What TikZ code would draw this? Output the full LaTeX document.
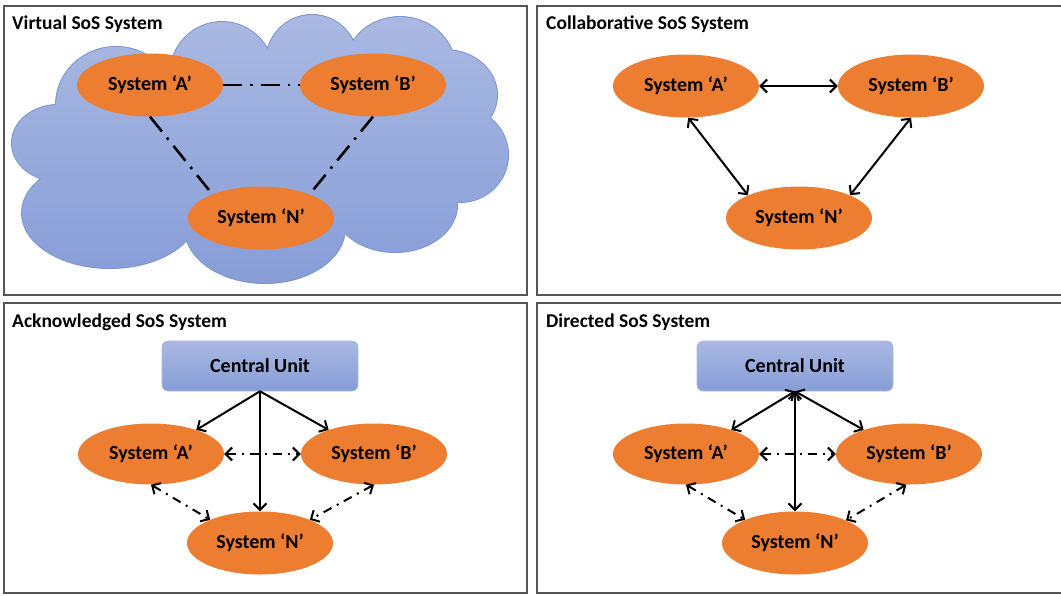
\documentclass[tikz,border=0pt]{standalone}
\usepackage{fontspec}
\setmainfont{Carlito}
\usetikzlibrary{shapes.geometric,arrows.meta}
\definecolor{sysorange}{HTML}{ED7D31}
\definecolor{cloudtop}{HTML}{A9B9E2}
\definecolor{cloudbot}{HTML}{879DD7}
\definecolor{cloudline}{HTML}{7F95CF}
\definecolor{framegray}{HTML}{555555}
\tikzset{
  x=1pt, y=-1pt,
  panel/.style={draw=framegray, line width=1.6pt},
  ptitle/.style={anchor=base west, font=\bfseries\fontsize{19.5}{21}\selectfont, inner sep=0},
  sysnode/.style={ellipse, fill=sysorange, minimum width=146pt, minimum height=63pt, inner sep=0,
    font=\bfseries\fontsize{20}{22}\selectfont},
  cunit/.style={rectangle, rounded corners=6pt, top color=cloudtop, bottom color=cloudbot,
    draw=cloudtop, line width=0.6pt, minimum width=196pt, minimum height=50pt, inner sep=0,
    font=\bfseries\fontsize{20}{22}\selectfont},
  dashdotlink/.style={line width=2.6pt, dash pattern=on 19pt off 8pt on 2.5pt off 8pt},
  solidarrow/.style={line width=2pt, -{Straight Barb[length=6.5pt,width=13pt]}},
  bothsolid/.style={line width=2pt, {Straight Barb[length=6.5pt,width=13pt]}-{Straight Barb[length=6.5pt,width=13pt]}},
  bothdotted/.style={line width=2pt, dash pattern=on 9pt off 6pt on 2pt off 6pt,
    {Straight Barb[length=6.5pt,width=13pt]}-{Straight Barb[length=6.5pt,width=13pt]}},
  puffs/.style={insert path={
    (58,143) ellipse [x radius=46, y radius=38]
    (110,213) ellipse [x radius=88, y radius=55]
    (265,228) ellipse [x radius=80, y radius=55]
    (395,205) ellipse [x radius=62, y radius=47]
    (460,155) ellipse [x radius=48, y radius=47]
    (445,95) ellipse [x radius=52, y radius=45]
    (400,68) ellipse [x radius=55, y radius=51]
    (312,62) ellipse [x radius=46, y radius=47]
    (222,75) ellipse [x radius=52, y radius=53]
    (116,105) ellipse [x radius=60, y radius=58]
  }},
}
\begin{document}
\begin{tikzpicture}
\useasboundingbox (0,0) rectangle (1061,595);
\fill[white] (0,0) rectangle (1061,595);
% panels
\draw[panel] (4,6) rectangle (527,295);
\draw[panel] (4,303) rectangle (527,593);
\draw[panel] (537,6) rectangle (1075,295);
\draw[panel] (537,303) rectangle (1075,593);
\node[ptitle] (t1) at (12,29) {Virtual SoS System};
\node[ptitle] (t2) at (546,29) {Collaborative SoS System};
\node[ptitle] (t3) at (12,327) {Acknowledged SoS System};
\node[ptitle] (t4) at (546,327) {Directed SoS System};
% cloud
\draw[cloudline, line width=2pt, puffs];
\shade[top color=cloudtop, bottom color=cloudbot, puffs]
  (260,150) ellipse [x radius=190, y radius=95];
% virtual
\node[sysnode] (va) at (150,85) {System ‘A’};
\node[sysnode] (vb) at (373,85) {System ‘B’};
\node[sysnode] (vn) at (261,218) {System ‘N’};
\draw[dashdotlink] (va) -- (vb);
\draw[dashdotlink] (va.south) -- (vn.154);
\draw[dashdotlink] (vb.south) -- (vn.26);
% collaborative
\node[sysnode] (ca) at (686,86) {System ‘A’};
\node[sysnode] (cb) at (911,86) {System ‘B’};
\node[sysnode] (cn) at (799,218) {System ‘N’};
\draw[bothsolid] (ca) -- (cb);
\draw[bothsolid] (ca.-86) -- (cn.156);
\draw[bothsolid] (cb.south) -- (cn.24);
% acknowledged
\node[cunit] (kc) at (260,366) {Central Unit};
\node[sysnode, minimum height=61pt] (ka) at (151,454) {System ‘A’};
\node[sysnode, minimum height=61pt] (kb) at (374,454) {System ‘B’};
\node[sysnode] (kn) at (260,543) {System ‘N’};
\draw[solidarrow] (kc.south) -- (ka.28);
\draw[solidarrow] (kc.south) -- (kb.152);
\draw[solidarrow] (kc.south) -- (kn.north);
\draw[bothdotted] (ka) -- (kb);
\draw[bothdotted] (ka.south) -- (kn.155);
\draw[bothdotted] (kb.south) -- (kn.25);
% directed
\node[cunit] (dc) at (795,366) {Central Unit};
\node[sysnode, minimum height=61pt] (da) at (686,454) {System ‘A’};
\node[sysnode, minimum height=61pt] (db) at (909,454) {System ‘B’};
\node[sysnode] (dn) at (795,543) {System ‘N’};
\draw[bothsolid] (dc.south) -- (da.28);
\draw[bothsolid] (dc.south) -- (db.152);
\draw[bothsolid] (dc.south) -- (dn.north);
\draw[bothdotted] (da) -- (db);
\draw[bothdotted] (da.south) -- (dn.155);
\draw[bothdotted] (db.-95) -- (dn.24);
\end{tikzpicture}
\end{document}
